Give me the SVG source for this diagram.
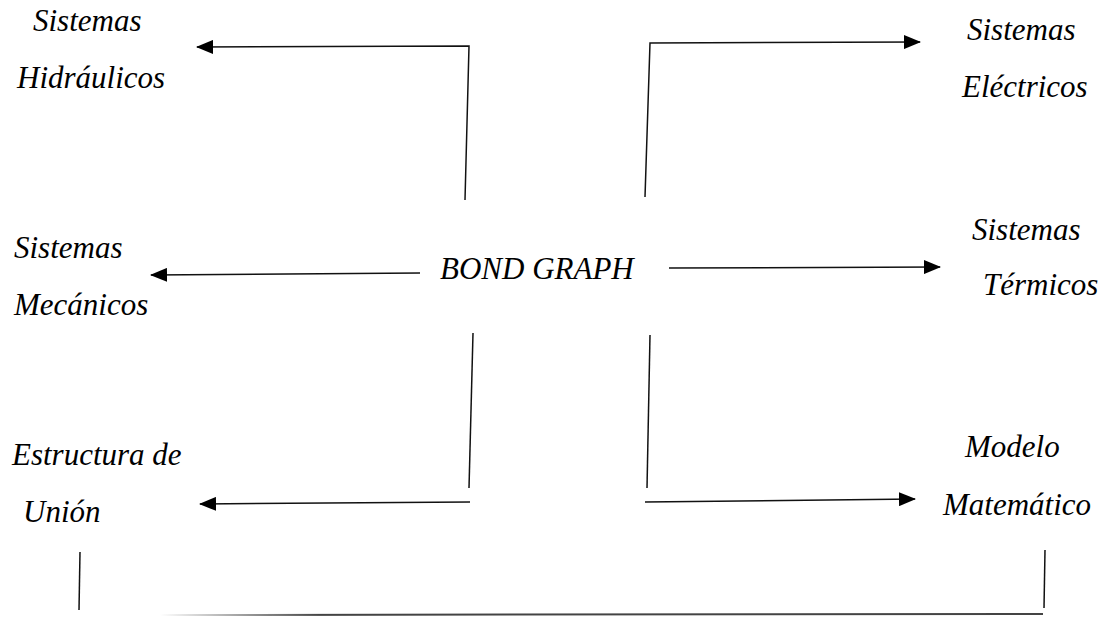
<svg xmlns="http://www.w3.org/2000/svg" width="1102" height="617" viewBox="0 0 1102 617">
  <style>
    .lbl { font-family: "Liberation Serif", "Times New Roman", serif; font-style: italic; font-size: 31px; fill: #000; }
    .ln { fill: none; stroke: #111; stroke-width: 1.5; }
  </style>
  <defs>
    <marker id="arr" markerUnits="userSpaceOnUse" markerWidth="18" markerHeight="14" refX="16" refY="7" orient="auto">
      <path d="M0,0 L17,7 L0,14 Z" fill="#000"/>
    </marker>
    <linearGradient id="fade" gradientUnits="userSpaceOnUse" x1="160" y1="0" x2="320" y2="0">
      <stop offset="0" stop-color="#fff"/>
      <stop offset="1" stop-color="#444"/>
    </linearGradient>
  </defs>
  <rect width="1102" height="617" fill="#fff"/>

  <g id="connectors">
    <path class="ln" d="M465,200 L469,46 L197,47" marker-end="url(#arr)"/>
    <path class="ln" d="M645,197 L650,43 L920,42" marker-end="url(#arr)"/>
    <path class="ln" d="M420,273 L151,275" marker-end="url(#arr)"/>
    <path class="ln" d="M669,268 L940,267" marker-end="url(#arr)"/>
    <path class="ln" d="M473,333 L469,488"/>
    <path class="ln" d="M470,502 L200,504" marker-end="url(#arr)"/>
    <path class="ln" d="M650,335 L647,488"/>
    <path class="ln" d="M645,502 L915,499" marker-end="url(#arr)"/>
    <path class="ln" d="M80,552 L79,610"/>
    <path class="ln" d="M1045,550 L1044,608"/>
    <path d="M160,615 L1043,614" fill="none" stroke="url(#fade)" stroke-width="2"/>
  </g>

  <g id="bond-graph"><text class="lbl" x="440" y="279">BOND GRAPH</text></g>
  <g id="hidraulicos">
    <text class="lbl" x="33" y="31">Sistemas</text>
    <text class="lbl" x="17" y="88">Hidráulicos</text>
  </g>
  <g id="electricos">
    <text class="lbl" x="967" y="40">Sistemas</text>
    <text class="lbl" x="962" y="97">Eléctricos</text>
  </g>
  <g id="mecanicos">
    <text class="lbl" x="14" y="258">Sistemas</text>
    <text class="lbl" x="14" y="315">Mecánicos</text>
  </g>
  <g id="termicos">
    <text class="lbl" x="972" y="240">Sistemas</text>
    <text class="lbl" x="983" y="295">Térmicos</text>
  </g>
  <g id="estructura">
    <text class="lbl" x="12" y="465">Estructura de</text>
    <text class="lbl" x="23" y="522">Unión</text>
  </g>
  <g id="modelo">
    <text class="lbl" x="965" y="457">Modelo</text>
    <text class="lbl" x="943" y="515">Matemático</text>
  </g>
</svg>
